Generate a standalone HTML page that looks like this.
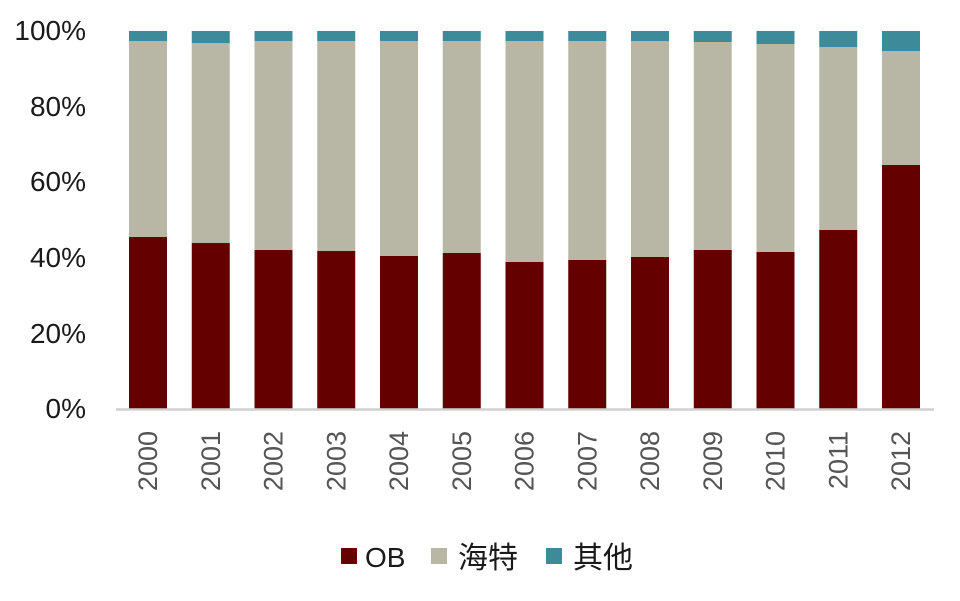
<!DOCTYPE html>
<html><head><meta charset="utf-8"><style>
html,body{margin:0;padding:0;background:#fff;}
svg{display:block;}
text{font-family:"Liberation Sans","Noto Sans CJK SC",sans-serif;}
</style></head><body>
<svg width="960" height="601" xmlns="http://www.w3.org/2000/svg">
<g>
<rect x="129" y="31" width="38" height="10" fill="#3c8a9a"/><rect x="129" y="41" width="38" height="196" fill="#b8b7a5"/><rect x="129" y="237" width="38" height="172" fill="#650000"/>
<rect x="191.75" y="31" width="38" height="12" fill="#3c8a9a"/><rect x="191.75" y="43" width="38" height="200" fill="#b8b7a5"/><rect x="191.75" y="243" width="38" height="166" fill="#650000"/>
<rect x="254.5" y="31" width="38" height="10" fill="#3c8a9a"/><rect x="254.5" y="41" width="38" height="209" fill="#b8b7a5"/><rect x="254.5" y="250" width="38" height="159" fill="#650000"/>
<rect x="317.25" y="31" width="38" height="10" fill="#3c8a9a"/><rect x="317.25" y="41" width="38" height="210" fill="#b8b7a5"/><rect x="317.25" y="251" width="38" height="158" fill="#650000"/>
<rect x="380" y="31" width="38" height="10" fill="#3c8a9a"/><rect x="380" y="41" width="38" height="215" fill="#b8b7a5"/><rect x="380" y="256" width="38" height="153" fill="#650000"/>
<rect x="442.75" y="31" width="38" height="10" fill="#3c8a9a"/><rect x="442.75" y="41" width="38" height="212" fill="#b8b7a5"/><rect x="442.75" y="253" width="38" height="156" fill="#650000"/>
<rect x="505.5" y="31" width="38" height="10" fill="#3c8a9a"/><rect x="505.5" y="41" width="38" height="221" fill="#b8b7a5"/><rect x="505.5" y="262" width="38" height="147" fill="#650000"/>
<rect x="568.25" y="31" width="38" height="10" fill="#3c8a9a"/><rect x="568.25" y="41" width="38" height="219" fill="#b8b7a5"/><rect x="568.25" y="260" width="38" height="149" fill="#650000"/>
<rect x="631" y="31" width="38" height="10" fill="#3c8a9a"/><rect x="631" y="41" width="38" height="216" fill="#b8b7a5"/><rect x="631" y="257" width="38" height="152" fill="#650000"/>
<rect x="693.75" y="31" width="38" height="11" fill="#3c8a9a"/><rect x="693.75" y="42" width="38" height="208" fill="#b8b7a5"/><rect x="693.75" y="250" width="38" height="159" fill="#650000"/>
<rect x="756.5" y="31" width="38" height="13" fill="#3c8a9a"/><rect x="756.5" y="44" width="38" height="208" fill="#b8b7a5"/><rect x="756.5" y="252" width="38" height="157" fill="#650000"/>
<rect x="819.25" y="31" width="38" height="16" fill="#3c8a9a"/><rect x="819.25" y="47" width="38" height="183" fill="#b8b7a5"/><rect x="819.25" y="230" width="38" height="179" fill="#650000"/>
<rect x="882" y="31" width="38" height="20" fill="#3c8a9a"/><rect x="882" y="51" width="38" height="114" fill="#b8b7a5"/><rect x="882" y="165" width="38" height="244" fill="#650000"/>
</g>
<line x1="116" y1="409.5" x2="934" y2="409.5" stroke="#d0d0d0" stroke-width="2.5"/>
<g font-size="28" fill="#1a1a1a" text-anchor="end">
<text x="86" y="40">100%</text>
<text x="86" y="116">80%</text>
<text x="86" y="191">60%</text>
<text x="86" y="267">40%</text>
<text x="86" y="343">20%</text>
<text x="86" y="418">0%</text>
</g>
<g font-size="27" fill="#555" text-anchor="end">
<text transform="translate(157,431) rotate(-90)">2000</text>
<text transform="translate(219.75,431) rotate(-90)">2001</text>
<text transform="translate(282.5,431) rotate(-90)">2002</text>
<text transform="translate(345.25,431) rotate(-90)">2003</text>
<text transform="translate(408,431) rotate(-90)">2004</text>
<text transform="translate(470.75,431) rotate(-90)">2005</text>
<text transform="translate(533.5,431) rotate(-90)">2006</text>
<text transform="translate(596.25,431) rotate(-90)">2007</text>
<text transform="translate(659,431) rotate(-90)">2008</text>
<text transform="translate(721.75,431) rotate(-90)">2009</text>
<text transform="translate(784.5,431) rotate(-90)">2010</text>
<text transform="translate(847.25,431) rotate(-90)">2011</text>
<text transform="translate(910,431) rotate(-90)">2012</text>
</g>
<rect x="341" y="548" width="16" height="16" fill="#650000"/>
<text x="365" y="567" font-size="28" fill="#1a1a1a">OB</text>
<rect x="431" y="548" width="16" height="16" fill="#b8b7a5"/>
<text x="458" y="568" font-size="30" fill="#1a1a1a">海特</text>
<rect x="546" y="548" width="16" height="16" fill="#3c8a9a"/>
<text x="573" y="568" font-size="30" fill="#1a1a1a">其他</text>
</svg>
</body></html>
